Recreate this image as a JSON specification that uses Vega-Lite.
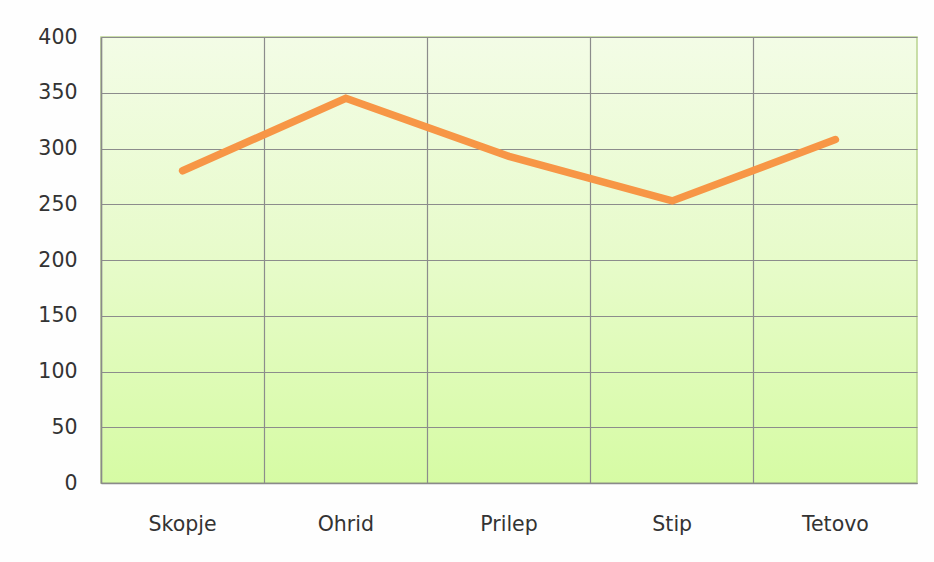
{
  "$schema": "https://vega.github.io/schema/vega-lite/v6.json",
  "autosize": "none",
  "width": 816,
  "height": 446,
  "padding": {"left": 101, "top": 37, "right": 17, "bottom": 79},
  "background": "#fefefe",
  "config": {
    "view": {"stroke": "#b9d38f", "strokeWidth": 1.5, "fill": {"gradient": "linear", "x1": 0, "y1": 0, "x2": 0, "y2": 1, "stops": [{"offset": 0, "color": "#f3fce6"}, {"offset": 0.5, "color": "#e7fbca"}, {"offset": 1, "color": "#d6fba4"}]}},
    "axis": {"labelFont": "DejaVu Sans", "labelFontSize": 20.5, "labelColor": "#333333", "ticks": false, "domainColor": "#8a8a8a", "domainWidth": 1.5, "gridColor": "#8c8c8c", "gridWidth": 1.2, "gridOpacity": 1, "title": null}
  },
  "data": {"values": [
    {"city": "Skopje", "value": 280},
    {"city": "Ohrid", "value": 345},
    {"city": "Prilep", "value": 293},
    {"city": "Stip", "value": 253},
    {"city": "Tetovo", "value": 308}
  ]},
  "mark": {"type": "line", "color": "#f79646", "strokeWidth": 7.5, "strokeCap": "round", "strokeJoin": "miter"},
  "encoding": {
    "x": {"field": "city", "type": "nominal", "sort": null,
          "scale": {"type": "band", "paddingInner": 0, "paddingOuter": 0},
          "axis": {"labelAngle": 0, "grid": true, "bandPosition": 0, "labelPadding": 31, "domain": true}},
    "y": {"field": "value", "type": "quantitative", "scale": {"domain": [0, 400], "nice": false},
          "axis": {"values": [0, 50, 100, 150, 200, 250, 300, 350, 400], "grid": true, "labelPadding": 24, "domain": true}}
  }
}
